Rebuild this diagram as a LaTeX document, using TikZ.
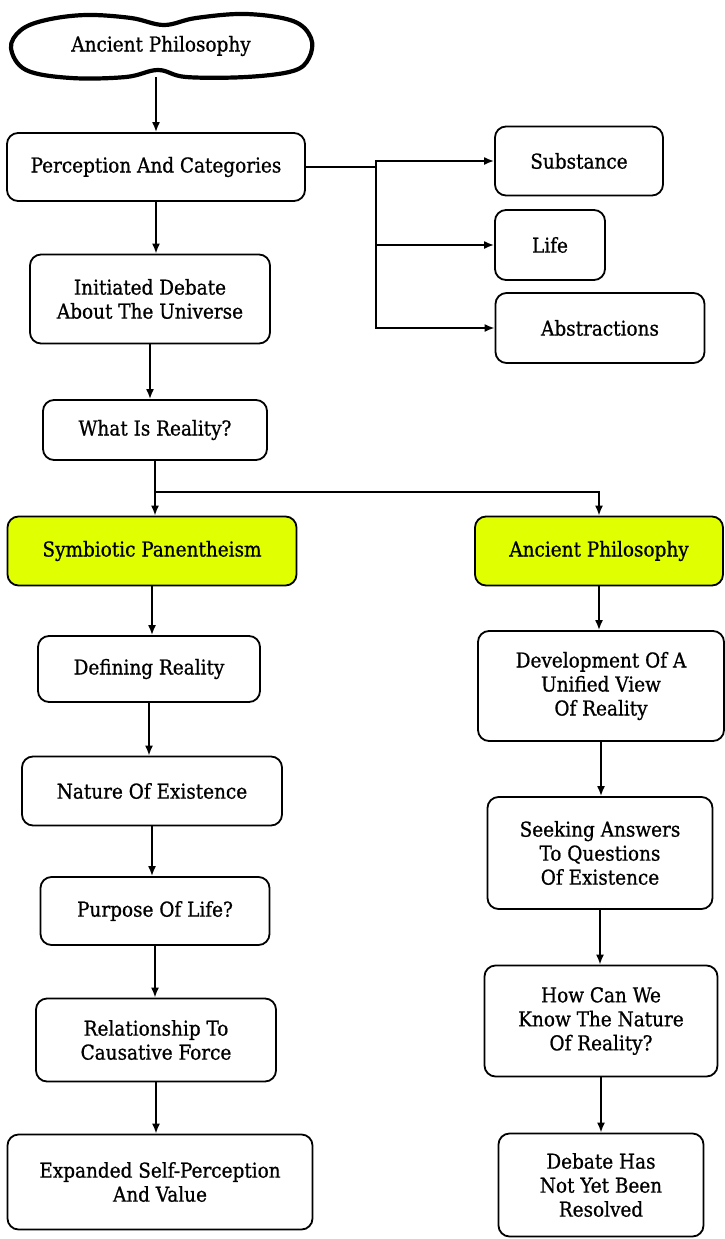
\documentclass[tikz,border=0pt]{standalone}
\usepackage{fontspec}
\setmainfont{DejaVu Serif Condensed}[FakeBold=0.8]
\usetikzlibrary{arrows.meta}
\definecolor{ylw}{RGB}{224,255,0}
\tikzset{
  txt/.style={font=\fontsize{20.5}{24}\selectfont},
  box/.style={draw, line width=1.8pt, rounded corners=11pt, align=center, fill=white, inner sep=0pt, txt},
  ybox/.style={box, fill=ylw},
  arr/.style={-{Latex[length=10pt,width=8pt]}, line width=1.8pt},
  ln/.style={line width=1.8pt},
  cloudline/.style={line width=4.2pt, line join=round},
}
\begin{document}
\begin{tikzpicture}[x=1pt,y=-1pt]
\path[use as bounding box] (0,0) rectangle (725,1239);
\node[minimum width=300pt, minimum height=62pt, inner sep=0pt, txt] (cl) at (161,46) {Ancient Philosophy};
\draw[cloudline, shift={(cl.center)}] plot[smooth cycle, tension=0.6] coordinates {(-150,2) (-140,-16) (-115,-26) (-75,-31) (-30,-28) (3,-21) (35,-28) (85,-32) (132,-25) (150,-8) (148,12) (132,25) (85,31) (25,31) (-3,24) (-35,31) (-90,32) (-135,24)};
\node[box, minimum width=298pt, minimum height=68pt] (pc) at (156,167) {Perception And Categories};
\node[box, minimum width=240pt, minimum height=89pt] (id) at (150,299) {Initiated Debate\\About The Universe};
\node[box, minimum width=224pt, minimum height=60pt] (wr) at (155,430) {What Is Reality?};
\node[box, minimum width=168pt, minimum height=69pt] (sub) at (579,161) {Substance};
\node[box, minimum width=110pt, minimum height=70pt] (life) at (550,245) {Life};
\node[box, minimum width=209pt, minimum height=70pt] (abs) at (600,328) {Abstractions};
\node[ybox, minimum width=289pt, minimum height=69pt] (sym) at (152,551) {Symbiotic Panentheism};
\node[ybox, minimum width=248pt, minimum height=69pt] (anc) at (599,551) {Ancient Philosophy};
\node[box, minimum width=222pt, minimum height=66pt] (def) at (149,669) {Defining Reality};
\node[box, minimum width=260pt, minimum height=69pt] (nat) at (152,791) {Nature Of Existence};
\node[box, minimum width=229pt, minimum height=68pt] (pur) at (155,911) {Purpose Of Life?};
\node[box, minimum width=240pt, minimum height=83pt] (rel) at (156,1040) {Relationship To\\Causative Force};
\node[box, minimum width=305pt, minimum height=95pt] (exp) at (160,1182) {Expanded Self-Perception\\And Value};
\node[box, minimum width=246pt, minimum height=110pt] (dev) at (601,686) {Development Of A\\Unified View\\Of Reality};
\node[box, minimum width=225pt, minimum height=112pt] (seek) at (600,853) {Seeking Answers\\To Questions\\Of Existence};
\node[box, minimum width=233pt, minimum height=111pt] (how) at (601,1021) {How Can We\\Know The Nature\\Of Reality?};
\node[box, minimum width=205pt, minimum height=103pt] (deb) at (601,1185) {Debate Has\\Not Yet Been\\Resolved};
\coordinate (j1) at (376,167);
\coordinate (j2) at (155,492);
\draw[arr] (pc.north |- cl.south) -- (pc.north);
\draw[arr] (pc.south) -- (pc.south |- id.north);
\draw[arr] (id.south) -- (id.south |- wr.north);
\draw[ln] (pc.east) -- (j1);
\draw[arr] (j1) |- (sub.west);
\draw[arr] (j1) |- (life.west);
\draw[arr] (j1) |- (abs.west);
\draw[ln] (wr.south) -- (j2);
\draw[arr] (j2) -- (j2 |- sym.north);
\draw[arr] (j2) -| (anc.north);
\draw[arr] (sym.south) -- (sym.south |- def.north);
\draw[arr] (def.south) -- (def.south |- nat.north);
\draw[arr] (nat.south) -- (nat.south |- pur.north);
\draw[arr] (pur.south) -- (pur.south |- rel.north);
\draw[arr] (rel.south) -- (rel.south |- exp.north);
\draw[arr] (anc.south) -- (anc.south |- dev.north);
\draw[arr] (dev.south) -- (dev.south |- seek.north);
\draw[arr] (seek.south) -- (seek.south |- how.north);
\draw[arr] (how.south) -- (how.south |- deb.north);
\end{tikzpicture}
\end{document}
